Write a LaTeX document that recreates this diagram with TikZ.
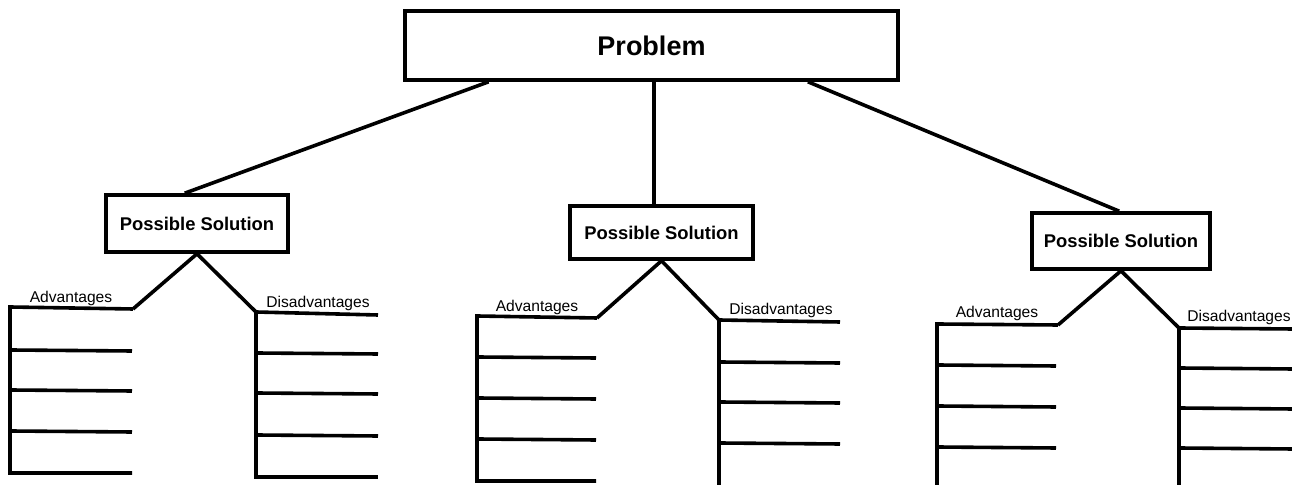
\documentclass[tikz,border=0pt]{standalone}
\usepackage{fontspec}
\setmainfont{Liberation Sans}
\usetikzlibrary{calc}
\begin{document}
\begin{tikzpicture}[x=0.5pt,y=-0.5pt,
  line join=miter,
  ln/.style={line width=1.8pt},
  probbox/.style={draw,line width=1.8pt,inner sep=0pt,font=\fontsize{13.5}{15}\selectfont\bfseries},
  solbox/.style={draw,line width=1.8pt,inner sep=0pt,font=\fontsize{9.2}{11}\selectfont\bfseries},
  lbl/.style={inner sep=0pt,font=\fontsize{7.8}{9}\selectfont}]
\useasboundingbox (0,0) rectangle (1292,485);
\fill[white] (0,0) rectangle (1292,485);

\node[probbox,minimum width=246.5pt,minimum height=34.5pt] (P) at (651.5,45.5) {Problem};
\node[solbox,minimum width=91pt,minimum height=28.5pt] (S1) at (197,223.5) {Possible Solution};
\node[solbox,minimum width=91.5pt,minimum height=26.5pt] (S2) at (661.5,232.5) {Possible Solution};
\node[solbox,minimum width=89pt,minimum height=28pt] (S3) at (1121,241) {Possible Solution};

\draw[ln] ($(P.south west)!0.172!(P.south east)$) -- ($(S1.north west)!0.434!(S1.north east)$);
\draw[ln] ($(P.south west)!0.505!(P.south east)$) -- ($(S2.north west)!0.46!(S2.north east)$);
\draw[ln] ($(P.south west)!0.815!(P.south east)$) -- ($(S3.north west)!0.49!(S3.north east)$);

% group 1
\coordinate (a1) at (133,309);
\coordinate (d1) at (256,312);
\draw[ln] (S1.south) -- (a1);
\draw[ln] (S1.south) -- (d1);
\draw[ln] (a1) -- (10,307) -- (10,473) -- (132,473);
\foreach \y in {350,390,431} \draw[ln] (10,\y) -- (132,\y+1);
\draw[ln] (d1) -- (256,477) -- (378,477);
\draw[ln] (d1) -- (378,315);
\foreach \y in {353,393,435} \draw[ln] (256,\y) -- (378,\y+1);
\node[lbl] (A1) at (71,298) {Advantages};
\node[lbl] (D1) at (318,303) {Disadvantages};

% group 2
\coordinate (a2) at (597,318);
\coordinate (d2) at (719,320);
\draw[ln] (S2.south) -- (a2);
\draw[ln] (S2.south) -- (d2);
\draw[ln] (a2) -- (477,316) -- (477,481) -- (596,481);
\foreach \y in {357,398,439} \draw[ln] (477,\y) -- (596,\y+1);
\draw[ln] (d2) -- (719,486);
\draw[ln] (d2) -- (840,322);
\foreach \y in {362,402,443} \draw[ln] (719,\y) -- (840,\y+1);
\node[lbl] (A2) at (537,307) {Advantages};
\node[lbl] (D2) at (781,310) {Disadvantages};

% group 3
\coordinate (a3) at (1058,325);
\coordinate (d3) at (1179,328);
\draw[ln] (S3.south) -- (a3);
\draw[ln] (S3.south) -- (d3);
\draw[ln] (a3) -- (937,324) -- (937,486);
\foreach \y in {365,406,447} \draw[ln] (937,\y) -- (1056,\y+1);
\draw[ln] (d3) -- (1179,486);
\draw[ln] (d3) -- (1293,329);
\foreach \y in {368,408,448} \draw[ln] (1179,\y) -- (1293,\y+1);
\node[lbl] (A3) at (997,313) {Advantages};
\node[lbl] (D3) at (1239,317) {Disadvantages};
\end{tikzpicture}
\end{document}
